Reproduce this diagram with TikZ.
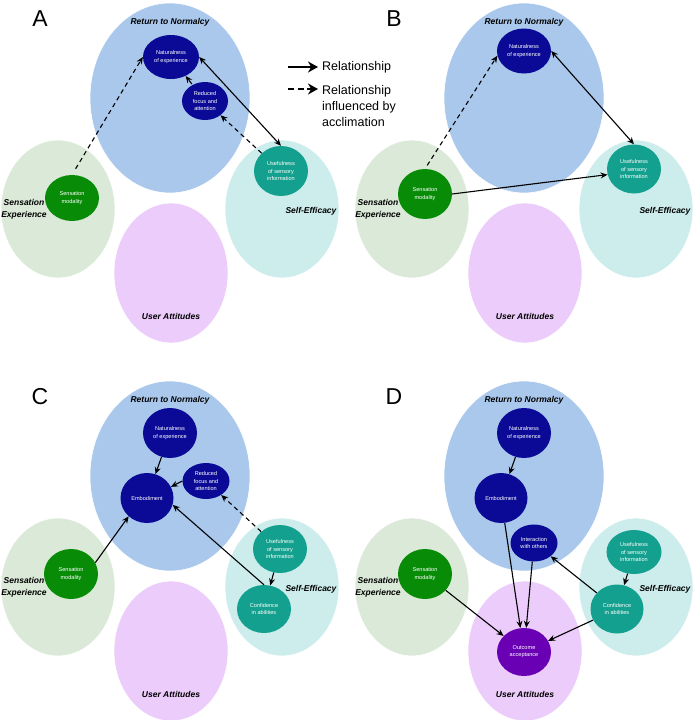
\documentclass[tikz,border=0pt]{standalone}
\usepackage{fontspec}
\setmainfont{Liberation Sans}
\usetikzlibrary{arrows.meta,shapes.geometric}

\definecolor{rtnblue}{RGB}{169,200,236}
\definecolor{expgreen}{RGB}{219,234,216}
\definecolor{selfcyan}{RGB}{205,237,236}
\definecolor{userpink}{RGB}{236,204,250}
\definecolor{navyfac}{RGB}{10,10,150}
\definecolor{greenfac}{RGB}{8,140,8}
\definecolor{tealfac}{RGB}{20,160,142}
\definecolor{purplefac}{RGB}{105,0,180}

\begin{document}
\begin{tikzpicture}[x=1pt,y=-1pt,line join=round,
    area/.style={ellipse,draw=white,line width=0.6pt,inner sep=0pt},
    fac/.style={ellipse,inner sep=0pt,text=white,align=center,font=\fontsize{5.6}{7.2}\selectfont},
    theme/.style={font=\fontsize{8.5}{12}\selectfont\bfseries\itshape,align=center,inner sep=0pt},
    rel/.style={line width=1.1pt,-{Stealth[length=7pt,width=6pt]}},
    both/.style={rel,{Stealth[length=7pt,width=6pt]}-{Stealth[length=7pt,width=6pt]}},
    accl/.style={rel,dash pattern=on 4.5pt off 3.5pt},
    keyarrow/.style={line width=2.4pt,-{Stealth[length=10pt,width=11pt]},shorten >=3pt},
    legend/.style={font=\fontsize{12.5}{16}\selectfont,inner sep=1pt}]
    \useasboundingbox (0,0) rectangle (694,720);

    % the four themes, same in every panel
    \foreach \p/\dx/\dy/\lab in {a/0/0/A,b/354/0/B,c/0/378/C,d/354/378/D}{
        \begin{scope}[shift={(\dx,\dy)}]
            \node[area,fill=rtnblue,minimum width=160pt,minimum height=190pt] (\p-rtn) at (170,98) {};
            \node[area,fill=expgreen,minimum width=114pt,minimum height=138pt] (\p-exp) at (58,209) {};
            \node[area,fill=selfcyan,minimum width=114pt,minimum height=138pt] (\p-self) at (282,209) {};
            \node[area,fill=userpink,minimum width=114pt,minimum height=140pt] (\p-user) at (171,273) {};
            \node[theme] (\p-rtnlab) at (170,22) {Return to Normalcy};
            \node[theme] (\p-explab) at (24,209) {Sensation\\Experience};
            \node[theme] (\p-selflab) at (311,211) {Self-Efficacy};
            \node[theme] (\p-userlab) at (171,316) {User Attitudes};
            \node[font=\fontsize{23}{26}\selectfont,inner sep=0pt] (\p-panel) at (40,19) {\lab};
        \end{scope}
    }

    % legend
    \coordinate (keySolidStart) at (288,67);
    \node[legend,anchor=west] (keySolid) at (321,67) {Relationship};
    \draw[keyarrow] (keySolidStart) -- (keySolid);
    \coordinate (keyDashStart) at (288,89);
    \node[legend,anchor=west,align=left] (keyDash) at (321,106) {Relationship\\influenced by\\acclimation};
    \draw[keyarrow,dash pattern=on 6pt off 3.5pt] (keyDashStart) -- (keyDashStart -| keyDash.west);

    % panel A
    \node[fac,fill=navyfac,minimum width=56pt,minimum height=44pt] (aNat) at (171,57) {Naturalness\\of experience};
    \node[fac,fill=navyfac,minimum width=46pt,minimum height=38pt] (aRed) at (205,101) {Reduced\\focus and\\attention};
    \node[fac,fill=tealfac,minimum width=54pt,minimum height=50pt] (aUse) at (281,171) {Usefulness\\of sensory\\information};
    \node[fac,fill=greenfac,minimum width=54pt,minimum height=46pt] (aSen) at (72,198) {Sensation\\modality};
    \draw[accl,shorten <=7pt] (aSen.north) -- (aNat.west);
    \draw[accl,shorten <=1pt] (aRed) -- (aNat);
    \draw[accl] (aUse) -- (aRed);
    \draw[both] (aNat.east) -- (aUse.north);

    % panel B
    \begin{scope}[shift={(354,0)}]
        \node[fac,fill=navyfac,minimum width=54pt,minimum height=45pt] (bNat) at (170,51) {Naturalness\\of experience};
        \node[fac,fill=tealfac,minimum width=54pt,minimum height=49pt] (bUse) at (280,169) {Usefulness\\of sensory\\information};
        \node[fac,fill=greenfac,minimum width=54pt,minimum height=50pt] (bSen) at (71,194) {Sensation\\modality};
        \draw[accl,shorten <=4pt] (bSen.north) -- (bNat.190);
        \draw[both] (bNat.east) -- (bUse.north);
        \draw[rel] (bSen.east) -- (bUse.192);
    \end{scope}

    % panel C
    \begin{scope}[shift={(0,378)}]
        \node[fac,fill=navyfac,minimum width=54pt,minimum height=50pt] (cNat) at (170,55) {Naturalness\\of experience};
        \node[fac,fill=navyfac,minimum width=53pt,minimum height=50pt] (cEmb) at (147,120) {Embodiment};
        \node[fac,fill=navyfac,minimum width=47pt,minimum height=36pt] (cRed) at (206,103) {Reduced\\focus and\\attention};
        \node[fac,fill=tealfac,minimum width=54pt,minimum height=48pt] (cUse) at (280,171) {Usefulness\\of sensory\\information};
        \node[fac,fill=tealfac,minimum width=54pt,minimum height=48pt] (cConf) at (264,231) {Confidence\\in abilities};
        \node[fac,fill=greenfac,minimum width=54pt,minimum height=50pt] (cSen) at (71,196) {Sensation\\modality};
        \draw[rel] (cNat) -- (cEmb);
        \draw[rel] (cRed.west) -- (cEmb.25);
        \draw[accl] (cUse) -- (cRed);
        \draw[rel] (cUse) -- (cConf);
        \draw[rel] (cConf.north) -- (cEmb.-15);
        \draw[rel] (cSen.25) -- (cEmb.225);
    \end{scope}

    % panel D
    \begin{scope}[shift={(354,378)}]
        \node[fac,fill=navyfac,minimum width=54pt,minimum height=50pt] (dNat) at (170,55) {Naturalness\\of experience};
        \node[fac,fill=navyfac,minimum width=53pt,minimum height=50pt] (dEmb) at (147,120) {Embodiment};
        \node[fac,fill=navyfac,minimum width=47pt,minimum height=37pt] (dInt) at (180,165) {Interaction\\with others};
        \node[fac,fill=tealfac,minimum width=55pt,minimum height=44pt] (dUse) at (280,174) {Usefulness\\of sensory\\information};
        \node[fac,fill=tealfac,minimum width=53pt,minimum height=49pt] (dConf) at (263,231) {Confidence\\in abilities};
        \node[fac,fill=greenfac,minimum width=54pt,minimum height=50pt] (dSen) at (71,196) {Sensation\\modality};
        \node[fac,fill=purplefac,minimum width=54pt,minimum height=48pt] (dOut) at (170,274) {Outcome\\acceptance};
        \draw[rel] (dNat) -- (dEmb);
        \draw[rel] (dEmb) -- (dOut);
        \draw[rel] (dInt) -- (dOut);
        \draw[rel] (dSen) -- (dOut);
        \draw[rel] (dConf) -- (dInt);
        \draw[rel] (dConf) -- (dOut);
        \draw[rel] (dUse) -- (dConf);
    \end{scope}
\end{tikzpicture}
\end{document}
